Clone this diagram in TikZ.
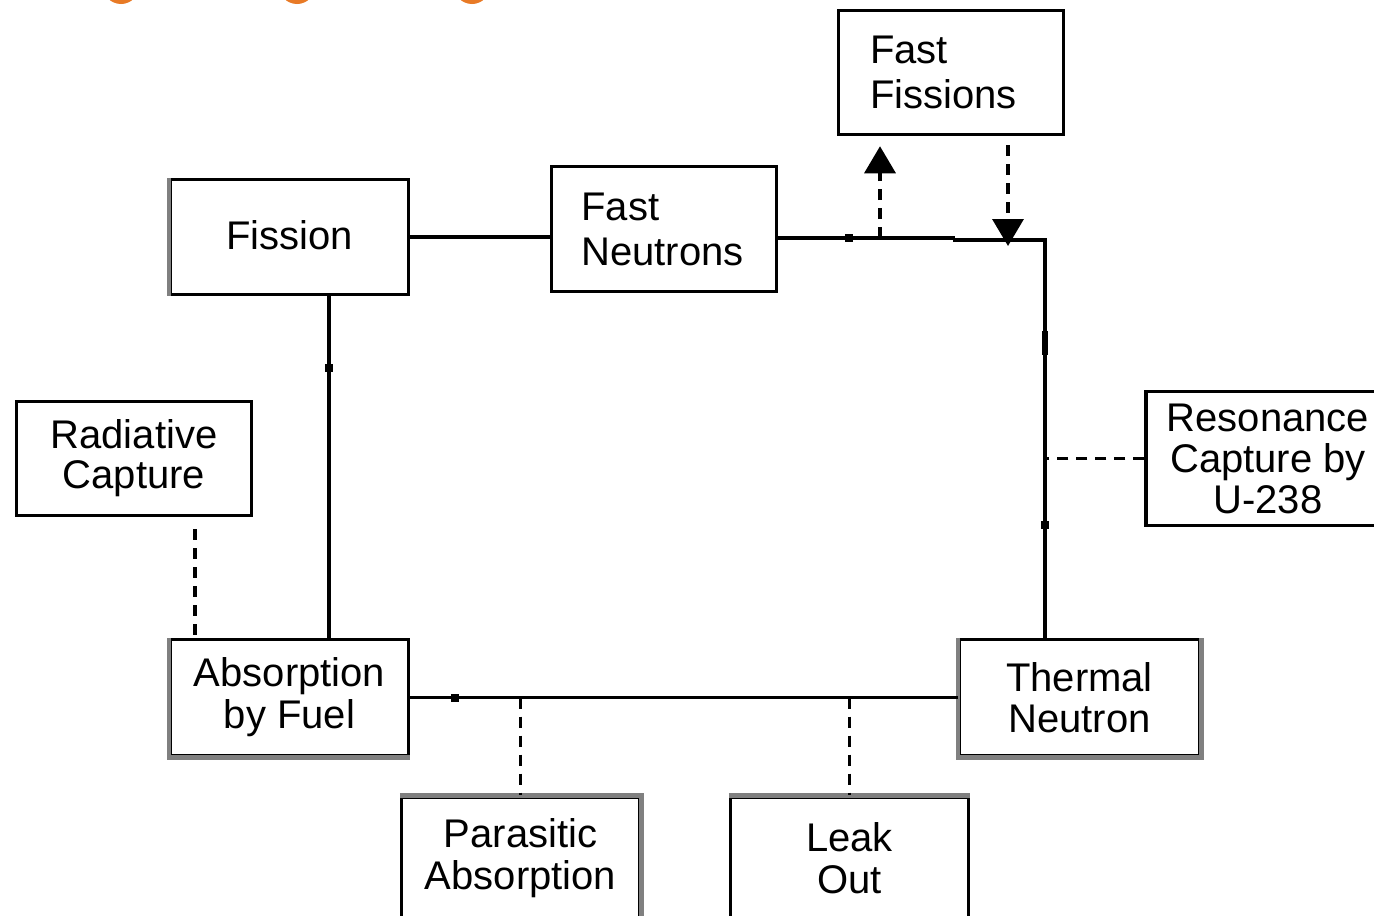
\documentclass[tikz,border=0pt]{standalone}
\usepackage{fontspec}
\setmainfont{Liberation Sans}
\usetikzlibrary{arrows.meta,decorations.markings}
\definecolor{orng}{RGB}{232,122,38}
\definecolor{edgegray}{RGB}{128,128,128}
\begin{document}
\begin{tikzpicture}[x=1pt,y=-1pt,
  box/.style={draw=black, line width=3.5pt, inner sep=0pt, align=center,
    font=\fontsize{40}{42}\selectfont},
  lbox/.style={draw=black, line width=3.5pt, inner ysep=0pt, align=left,
    font=\fontsize{40}{45}\selectfont},
  flow/.style={line width=3.5pt},
  dashline/.style={line width=3.5pt, dash pattern=on 11pt off 8pt},
  midarrow/.style={postaction={decorate}, decoration={markings,
    mark=at position #1 with {\fill[black] (-4pt,-4pt) rectangle (4pt,4pt);}}},
  bigtip/.style={-{Triangle[length=27pt,width=31pt]}},
  grayedge/.style={draw=edgegray, line width=4.5pt}
]
\useasboundingbox (0,0) rectangle (1374,916);
\clip (0,0) rectangle (1374,916);
\fill[white] (0,0) rectangle (1374,916);

% orange decorations cut off at top
\fill[orng] (121,-14) circle (18);
\fill[orng] (297,-14) circle (18);
\fill[orng] (472,-14) circle (18);

% boxes
\node[box, minimum width=238pt, minimum height=115pt] (fis) at (289.5,237) {\raisebox{4pt}{Fission}};
\node[lbox, inner xsep=30pt, text width=165pt, minimum height=125pt] (fn) at (664,229) {Fast\\Neutrons};
\node[lbox, inner xsep=31.5pt, text width=162pt, minimum height=124pt] (ff) at (951,72.5) {Fast\\Fissions};
\node[box, minimum width=235pt, minimum height=114pt, font=\fontsize{40}{40}\selectfont] (rc) at (134,458.5) {Radiative\\Capture};
\node[box, minimum width=238pt, minimum height=116pt] (abs) at (289.5,697.5) {Absorption\\by Fuel};
\node[box, minimum width=240pt, minimum height=116pt, font=\fontsize{40}{41}\selectfont] (tn) at (1079.5,697.5) {Thermal\\Neutron};
\node[box, minimum width=244pt, minimum height=134pt, font=\fontsize{40}{41}\selectfont] (res) at (1268,458.5) {Resonance\\Capture by\\U-238};
\node[box, minimum width=238pt, minimum height=122pt] (par) at (520.5,858) {Parasitic\\Absorption};
\node[box, minimum width=238pt, minimum height=122pt] (leak) at (849.5,858) {Leak\\Out};

% gray shaded edges
\draw[grayedge] (tn.north west) -- (tn.south west) -- (tn.south east) -- (tn.north east);
\draw[grayedge] (abs.north west) -- (abs.south west) -- (abs.south east);
\draw[grayedge] (fis.north west) -- (fis.south west);
\draw[grayedge] (par.north west) -- (par.north east) -- (par.south east);
\draw[grayedge] (leak.north west) -- (leak.north east);

% helper coordinates
\coordinate (j1) at (955,238);
\coordinate (j2) at (955,240);
\coordinate (corner) at (1047,240);
\coordinate (vtop) at (1045,240);
\coordinate (up0) at (880,238);
\coordinate (dn0) at (1008,246);
\coordinate (rd) at (195,530);
\coordinate (vl) at (329,400);

% main cycle
\draw[flow] (fis.east) -- (fis.east -| fn.west);
\draw[flow, midarrow=0.4] (fn.east |- j1) -- (j1);
\draw[flow] (j1) -- (j2) -- (corner);
\draw[flow, postaction={decorate}, decoration={markings,
    mark=at position 0.26 with {\fill[black] (-12pt,-3pt) rectangle (12pt,3pt);},
    mark=at position 0.716 with {\fill[black] (-4pt,-4pt) rectangle (4pt,4pt);}}]
  (vtop) -- (vtop |- tn.north);
\draw[flow, midarrow=0.918] (tn.west) -- (abs.east);
\draw[flow, midarrow=0.79] (abs.north -| vl) -- (fis.south -| vl);

% fast fission branches
\draw[dashline, bigtip, shorten >=10pt] (up0) -- (up0 |- ff.south);
\draw[dashline, bigtip, shorten <=9pt] (ff.south -| dn0) -- (dn0);

% losses
\draw[dashline] (res.west) -- (res.west -| vtop);
\draw[dashline] (par.north |- tn.west) -- (par.north);
\draw[dashline] (leak.north |- tn.west) -- (leak.north);
\draw[dashline, shorten <=12pt] (rc.south -| rd) -- (abs.north -| rd);
\end{tikzpicture}
\end{document}
